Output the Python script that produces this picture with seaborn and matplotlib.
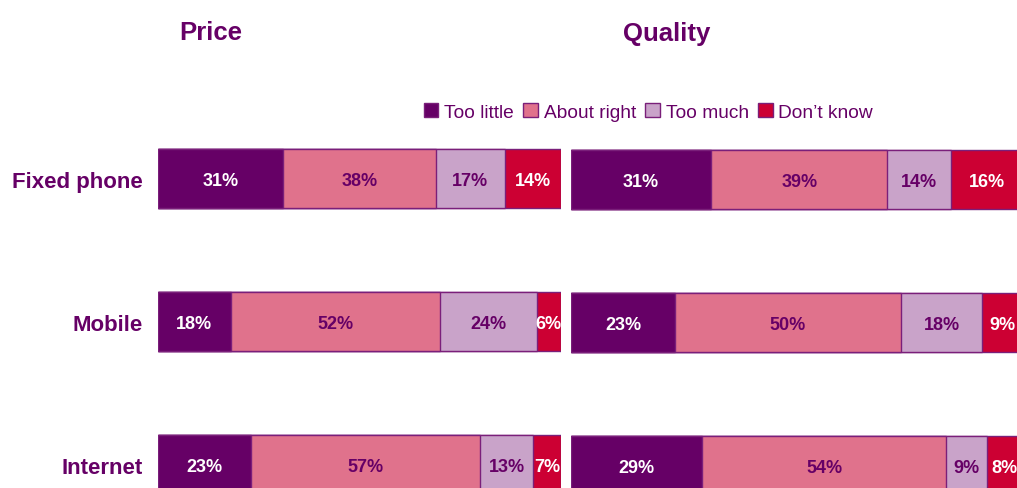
import matplotlib
matplotlib.use("Agg")
import matplotlib.pyplot as plt
import seaborn as sns
import numpy as np
import pandas as pd
from matplotlib.patches import Patch

sns.set_theme(style="white")
plt.rcParams['font.family'] = ['Liberation Sans', 'DejaVu Sans']

categories = ["Fixed phone", "Mobile", "Internet"]
series_names = ["Too little", "About right", "Too much", "Don\u2019t know"]

price_too_little = [31, 18, 23]
price_about_right = [38, 52, 57]
price_too_much = [17, 24, 13]
price_dont_know = [14, 6, 7]

quality_too_little = [31, 23, 29]
quality_about_right = [39, 50, 54]
quality_too_much = [14, 18, 9]
quality_dont_know = [16, 9, 8]

colors = ["#660066", "#E0728C", "#C9A3C9", "#CC0033"]
text_colors = ["white", "#660066", "#660066", "white"]
edge = "#7A1F7A"
purple = "#660066"

W, H = 1017, 489
fig = plt.figure(figsize=(W / 100, H / 100), dpi=100)

def px_axes(left, width, top_center, spacing):
    top = top_center - 0.5 * spacing
    bottom = top_center + 2.5 * spacing
    return fig.add_axes([left / W, 1 - bottom / H, width / W, (bottom - top) / H])

def draw_panel(ax, series, show_labels):
    vals = np.array(series, dtype=float)  # shape (4, 3)
    cum = np.cumsum(vals, axis=0)
    for k in range(len(series) - 1, -1, -1):
        df = pd.DataFrame({"cat": categories, "val": cum[k]})
        sns.barplot(data=df, x="val", y="cat", orient="h", color=colors[k],
                    saturation=1, width=0.41, edgecolor=edge, linewidth=1.0,
                    ax=ax, errorbar=None)
    for k in range(len(series)):
        for i in range(len(categories)):
            v = vals[k, i]
            ax.text(cum[k, i] - v / 2, i, f"{int(v)}%", ha="center", va="center_baseline",
                    color=text_colors[k], fontsize=13, fontweight="bold",
                    clip_on=True)
    ax.set_xlim(0, 100)
    ax.set_ylim(2.5, -0.5)
    ax.set_xlabel("")
    ax.set_ylabel("")
    ax.set_xticks([])
    sns.despine(ax=ax, left=True, bottom=True)
    ax.tick_params(axis="y", length=0, pad=11)
    if show_labels:
        ax.set_yticks(range(len(categories)))
        ax.set_yticklabels(categories, fontsize=16, fontweight="bold", color=purple,
                           va="center_baseline")
    else:
        ax.set_yticks([])

ax1 = px_axes(158, 403, 179.5, 143)
draw_panel(ax1, [price_too_little, price_about_right, price_too_much, price_dont_know], True)

ax2 = px_axes(571, 452, 180.5, 143)
draw_panel(ax2, [quality_too_little, quality_about_right, quality_too_much, quality_dont_know], False)

fig.text(211 / W, 1 - 31 / H, "Price", ha="center", va="center_baseline",
         fontsize=18.5, fontweight="bold", color=purple)
fig.text(667 / W, 1 - 31 / H, "Quality", ha="center", va="center_baseline",
         fontsize=18.5, fontweight="bold", color=purple)

handles = [Patch(facecolor=c, edgecolor=edge, linewidth=1) for c in colors]
leg = fig.legend(handles, series_names, loc="center", bbox_to_anchor=(648.5 / W, 1 - 113 / H),
                 ncol=4, frameon=False, fontsize=13.8, handlelength=0.75, handleheight=0.75,
                 handletextpad=0.3, columnspacing=0.5, borderaxespad=0)
for t in leg.get_texts():
    t.set_color(purple)

fig.savefig("out.png", dpi=100)
